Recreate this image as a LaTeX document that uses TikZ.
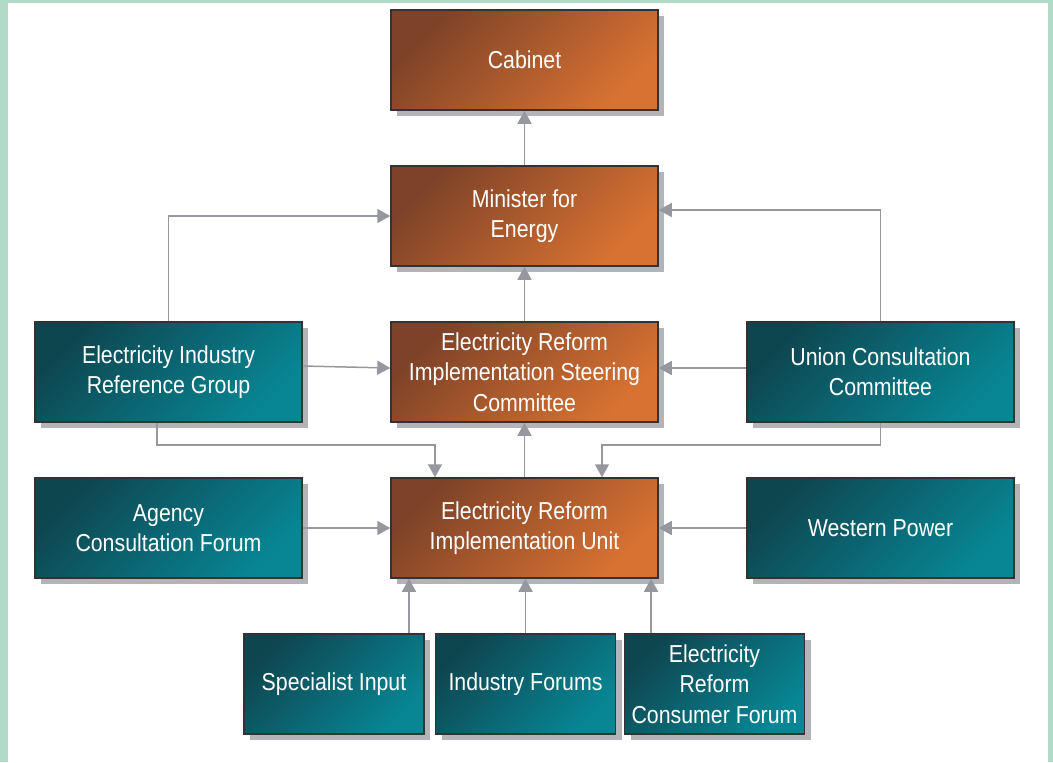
\documentclass[tikz,border=0pt]{standalone}
\usepackage{fontspec}
\setmainfont{Liberation Sans}[FakeStretch=0.87]
\usepackage{tikz}
\usetikzlibrary{arrows.meta,shadows}
\definecolor{frame}{RGB}{178,218,200}
\definecolor{rustdark}{RGB}{125,66,40}
\definecolor{rustlight}{RGB}{216,114,50}
\definecolor{tealdark}{RGB}{14,70,80}
\definecolor{teallight}{RGB}{8,134,148}
\definecolor{shade}{RGB}{180,180,184}
\definecolor{wire}{RGB}{150,152,158}

\begin{document}
\begin{tikzpicture}[x=0.5pt, y=-0.5pt, >={Triangle[length=6.5pt,width=7pt]},
  box/.style={draw=black!80, line width=0.75pt, minimum width=133.5pt, minimum height=50pt,
    text=white, align=center, inner sep=2pt, font=\fontsize{12.25}{15.2}\selectfont,
    drop shadow={shadow xshift=3pt, shadow yshift=-3pt, fill=shade, opacity=1}},
  rust/.style={box, top color=rustdark, bottom color=rustlight, shading angle=45},
  teal/.style={box, top color=tealdark, bottom color=teallight, shading angle=45},
  small/.style={minimum width=90pt},
  arr/.style={->, wire, line width=0.75pt}]
\useasboundingbox (0,0) rectangle (1053,762);
\fill[frame] (0,0) rectangle (1053,762);
\fill[white] (8,3) rectangle (1048,762);
% centre column
\node[rust] (cabinet) at (524.5,60) {Cabinet};
\node[rust] (minister) at (524.5,216) {Minister for\\Energy};
\node[rust] (steering) at (524.5,372) {Electricity Reform\\Implementation Steering\\Committee};
\node[rust] (unit) at (524.5,528) {Electricity Reform\\Implementation Unit};
% sides
\node[teal] (eirg) at (168.5,372) {Electricity Industry\\Reference Group};
\node[teal] (union) at (880.5,372) {Union Consultation\\Committee};
\node[teal] (agency) at (168.5,528) {Agency\\Consultation Forum};
\node[teal] (western) at (880.5,528) {Western Power};
% bottom row
\node[teal, small] (specialist) at (334,684) {Specialist Input};
\node[teal, small] (forums) at (525.5,684) {Industry Forums};
\node[teal, small] (consumer) at (714.5,684) {Electricity\\Reform\\Consumer Forum};
% connectors
\draw[arr] (minister) -- (cabinet);
\draw[arr] (steering) -- (minister);
\draw[arr] (unit) -- (steering);
\draw[arr] (eirg.north) |- (minister.west);
\draw[arr] (union.north) |- ([yshift=3pt]minister.east);
\draw[arr] ([yshift=3pt]eirg.east) -- ([yshift=2pt]steering.west);
\draw[arr] ([yshift=2pt]union.west) -- ([yshift=2pt]steering.east);
\draw[arr] ([xshift=-5.75pt]eirg.south) -- ++(0,22) -| ([xshift=-44.75pt]unit.north);
\draw[arr] (union.south) -- ++(0,22) -| ([xshift=38.75pt]unit.north);
\draw[arr] (agency.east) -- (unit.west);
\draw[arr] (western.west) -- (unit.east);
\draw[arr] ([xshift=37.5pt]specialist.north) -- ([xshift=-57.75pt]unit.south);
\draw[arr] (forums.north) -- (forums.north |- unit.south);
\draw[arr] ([xshift=-31.75pt]consumer.north) -- ([xshift=63.25pt]unit.south);
\end{tikzpicture}
\end{document}
